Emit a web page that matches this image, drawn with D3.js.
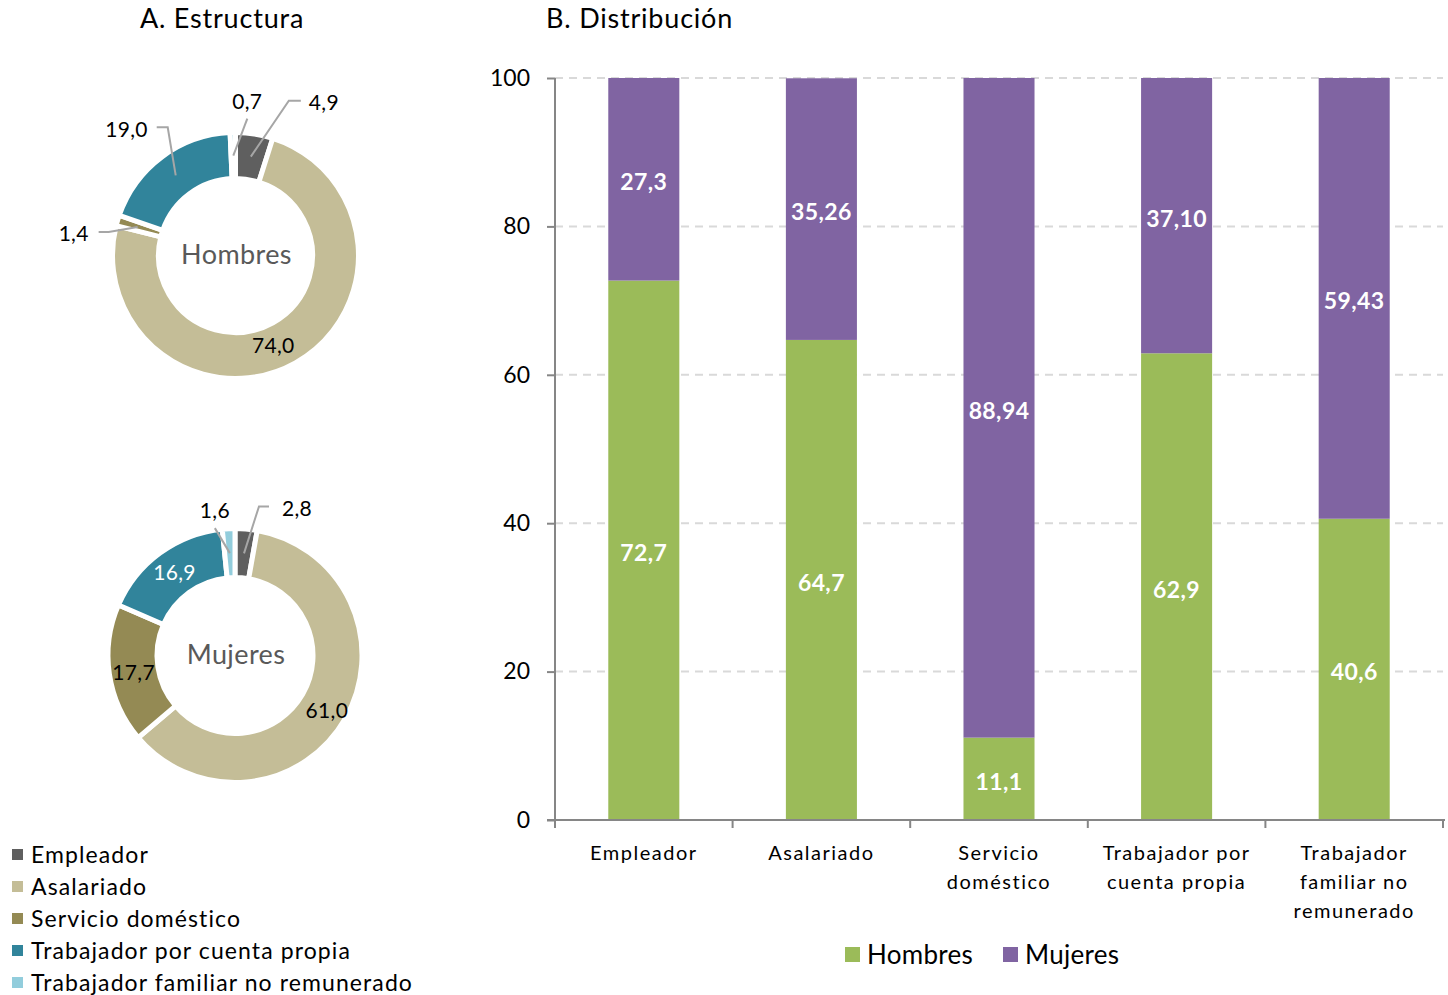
<!DOCTYPE html>
<html>
<head>
<meta charset="utf-8">
<script src="https://cdn.jsdelivr.net/npm/d3@7"></script>
<style>
  html, body { margin: 0; padding: 0; background: #fff; }
  svg { display: block; font-family: Lato, "Open Sans", sans-serif; }
</style>
</head>
<body>
<svg id="chart" width="1448" height="995"></svg>
<script>
// Categories of occupational position
const categories = [
  "Empleador",
  "Asalariado",
  "Servicio doméstico",
  "Trabajador por cuenta propia",
  "Trabajador familiar no remunerado"
];
// Axis labels of the bar chart, split into lines
const categoryLines = [
  ["Empleador"],
  ["Asalariado"],
  ["Servicio", "doméstico"],
  ["Trabajador por", "cuenta propia"],
  ["Trabajador", "familiar no", "remunerado"]
];
const categoryColors = ["#5f5f5f", "#c4bd97", "#948a54", "#31849b", "#92cddc"];

// A. Structure (% of each sex)
const estructuraHombres = [4.9, 74.0, 1.4, 19.0, 0.7];
const estructuraMujeres = [2.8, 61.0, 17.7, 16.9, 1.6];

// B. Distribution by sex (% of each category)
const distHombres = [72.7, 64.7, 11.1, 62.9, 40.6];
const distMujeres = [27.3, 35.26, 88.94, 37.10, 59.43];
const distHombresDecimals = [1, 1, 1, 1, 1];
const distMujeresDecimals = [1, 2, 2, 2, 2];
const yTicks = [0, 20, 40, 60, 80, 100];
const seriesNames = ["Hombres", "Mujeres"];
const seriesColors = ["#9bbb59", "#8064a2"];

const locale = d3.formatLocale({ decimal: ",", thousands: ".", grouping: [3], currency: ["", " €"] });
const fmt = (v, d) => locale.format("." + d + "f")(v);

const svg = d3.select("#chart");

// ---------- Titles ----------
svg.append("text").attr("x", 222).attr("y", 28).attr("text-anchor", "middle")
  .attr("font-size", 27).attr("letter-spacing", 0.8).attr("fill", "#000").text("A. Estructura");
svg.append("text").attr("x", 546).attr("y", 28).attr("text-anchor", "start")
  .attr("font-size", 27).attr("letter-spacing", 0.8).attr("fill", "#000").text("B. Distribución");

// ---------- Donuts ----------
function donut(cfg) {
  const g = svg.append("g").attr("transform", `translate(${cfg.cx},${cfg.cy})`);
  const pie = d3.pie().sort(null).value(d => d.value);
  const arcs = pie(cfg.values.map((v, i) => ({ value: v, i })));
  const arc = d3.arc().innerRadius(cfg.r0).outerRadius(cfg.r1);
  const mid = d3.arc().innerRadius((cfg.r0 + cfg.r1) / 2).outerRadius((cfg.r0 + cfg.r1) / 2);

  g.selectAll("path.slice").data(arcs).join("path")
    .attr("class", "slice")
    .attr("d", arc)
    .attr("fill", d => categoryColors[d.data.i])
    .attr("stroke", "#fff")
    .attr("stroke-width", 5)
    .attr("stroke-linejoin", "miter");

  g.append("text").attr("x", 1).attr("y", -1).attr("dy", "0.35em")
    .attr("text-anchor", "middle").attr("font-size", 27).attr("letter-spacing", 0.4).attr("fill", "#595959")
    .text(cfg.name);

  arcs.forEach(d => {
    const lay = cfg.labels[d.data.i];
    const [cx, cy] = mid.centroid(d);
    const txt = fmt(d.data.value, 1);
    if (lay.inside) {
      g.append("text").attr("x", cx + (lay.dx || 0)).attr("y", cy + (lay.dy || 0)).attr("dy", "0.35em")
        .attr("text-anchor", "middle").attr("font-size", 21).attr("letter-spacing", 0.3)
        .attr("fill", lay.color || "#000").text(txt);
    } else {
      // leader line: slice centroid -> elbow -> optional horizontal tail
      const pts = [[cx + (lay.sx || 0), cy + (lay.sy || 0)]];
      const ex = cx + lay.ex, ey = cy + lay.ey;
      pts.push([ex, ey]);
      const tx = ex + (lay.tail || 0);
      if (lay.tail) pts.push([tx, ey]);
      g.append("path").attr("d", d3.line()(pts))
        .attr("fill", "none").attr("stroke", "#a6a6a6").attr("stroke-width", 2);
      let lx, anchor;
      if (lay.tail > 0) { lx = tx + lay.gap; anchor = "start"; }
      else if (lay.tail < 0) { lx = tx - lay.gap; anchor = "end"; }
      else { lx = ex; anchor = "middle"; }
      const ly = lay.tail ? ey + 2 : ey - 17;
      g.append("text").attr("x", lx).attr("y", ly).attr("dy", "0.35em")
        .attr("text-anchor", anchor).attr("font-size", 21).attr("letter-spacing", 0.3)
        .attr("fill", "#000").text(txt);
    }
  });
}

donut({
  name: "Hombres", cx: 235.5, cy: 255.5, r0: 77, r1: 123,
  values: estructuraHombres,
  labels: [
    { ex: 38, ey: -56, tail: 12, gap: 8 },
    { inside: true, dx: -11, dy: 3 },
    { sx: -2, sy: 0, ex: -31, ey: 5, tail: -10, gap: 10 },
    { ex: -8, ey: -48, tail: -11, gap: 9 },
    { ex: 14, ey: -37, tail: 0 }
  ]
});

donut({
  name: "Mujeres", cx: 235, cy: 655.5, r0: 78, r1: 127,
  values: estructuraMujeres,
  labels: [
    { ex: 15, ey: -47, tail: 10, gap: 13 },
    { inside: true, dx: 3, dy: 4 },
    { inside: true, dx: 0, dy: 2 },
    { inside: true, color: "#fff" },
    { ex: -15, ey: -25, tail: 0 }
  ]
});

// Legend of the donuts
const leg = svg.append("g");
categories.forEach((c, i) => {
  const y = 855 + i * 32;
  leg.append("rect").attr("x", 12).attr("y", y - 6).attr("width", 11).attr("height", 11)
    .attr("fill", categoryColors[i]);
  leg.append("text").attr("x", 31).attr("y", y).attr("dy", "0.35em")
    .attr("font-size", 23).attr("fill", "#000").attr("letter-spacing", 1.1).text(c);
});

// ---------- Stacked bars ----------
const x = d3.scaleBand().domain(categories).range([555, 1443]).paddingInner(0.6).paddingOuter(0.3);
const y = d3.scaleLinear().domain([0, 100]).range([820, 78]);

// gridlines
svg.append("g").selectAll("line").data(yTicks.filter(t => t > 0)).join("line")
  .attr("x1", 555).attr("x2", 1443)
  .attr("y1", d => y(d)).attr("y2", d => y(d))
  .attr("stroke", "#d9d9d9").attr("stroke-width", 2).attr("stroke-dasharray", "8,6");

const stackData = categories.map((c, i) => ({ cat: c, Hombres: distHombres[i], Mujeres: distMujeres[i], i }));
const stack = d3.stack().keys(seriesNames)(stackData);

const bars = svg.append("g");
stack.forEach((layer, si) => {
  bars.selectAll(null).data(layer).join("rect")
    .attr("x", d => x(d.data.cat))
    .attr("width", x.bandwidth())
    .attr("y", d => y(Math.min(d[1], 100)))
    .attr("height", d => y(d[0]) - y(Math.min(d[1], 100)))
    .attr("fill", seriesColors[si]);
});
stack.forEach((layer, si) => {
  const decs = si === 0 ? distHombresDecimals : distMujeresDecimals;
  bars.selectAll(null).data(layer).join("text")
    .attr("x", d => x(d.data.cat) + x.bandwidth() / 2)
    .attr("y", d => y((d[0] + Math.min(d[1], 100)) / 2) + 3)
    .attr("dy", "0.35em")
    .attr("text-anchor", "middle")
    .attr("font-size", 23).attr("letter-spacing", 0.4).attr("font-weight", "bold").attr("fill", "#fff")
    .text(d => fmt(d.data[seriesNames[si]], decs[d.data.i]));
});

// y axis
const yAxis = svg.append("g").attr("transform", "translate(555,0)")
  .call(d3.axisLeft(y).tickValues(yTicks).tickSize(8).tickPadding(17).tickFormat(d3.format("d")));
yAxis.select(".domain").attr("stroke", "#868686").attr("stroke-width", 2).attr("d", "M0,78V820");
yAxis.selectAll(".tick line").attr("stroke", "#868686").attr("stroke-width", 2);
yAxis.selectAll(".tick text").attr("font-size", 23).attr("font-family", "Lato, sans-serif").attr("fill", "#000");

// x axis
const xg = svg.append("g");
xg.append("line").attr("x1", 547).attr("x2", 1445).attr("y1", 820).attr("y2", 820)
  .attr("stroke", "#868686").attr("stroke-width", 2);
const boundaries = categories.map(c => x(c) - x.step() * x.paddingInner() / 2);
boundaries.push(1443);
xg.selectAll("line.tk").data(boundaries).join("line").attr("class", "tk")
  .attr("x1", d => d).attr("x2", d => d).attr("y1", 820).attr("y2", 828)
  .attr("stroke", "#868686").attr("stroke-width", 2);
categories.forEach((c, i) => {
  const t = xg.append("text").attr("x", x(c) + x.bandwidth() / 2).attr("y", 860)
    .attr("text-anchor", "middle").attr("font-size", 20).attr("fill", "#000").attr("letter-spacing", 1.5);
  categoryLines[i].forEach((ln, k) => {
    t.append("tspan").attr("x", x(c) + x.bandwidth() / 2).attr("y", 860 + k * 29).text(ln);
  });
});

// bar legend
const bl = svg.append("g");
const legX = [845, 1003];
seriesNames.forEach((s, i) => {
  bl.append("rect").attr("x", legX[i]).attr("y", 947).attr("width", 15).attr("height", 15).attr("fill", seriesColors[i]);
  bl.append("text").attr("x", legX[i] + 22).attr("y", 955).attr("dy", "0.35em")
    .attr("font-size", 26).attr("letter-spacing", 0.3).attr("fill", "#000").text(s);
});
</script>
</body>
</html>
